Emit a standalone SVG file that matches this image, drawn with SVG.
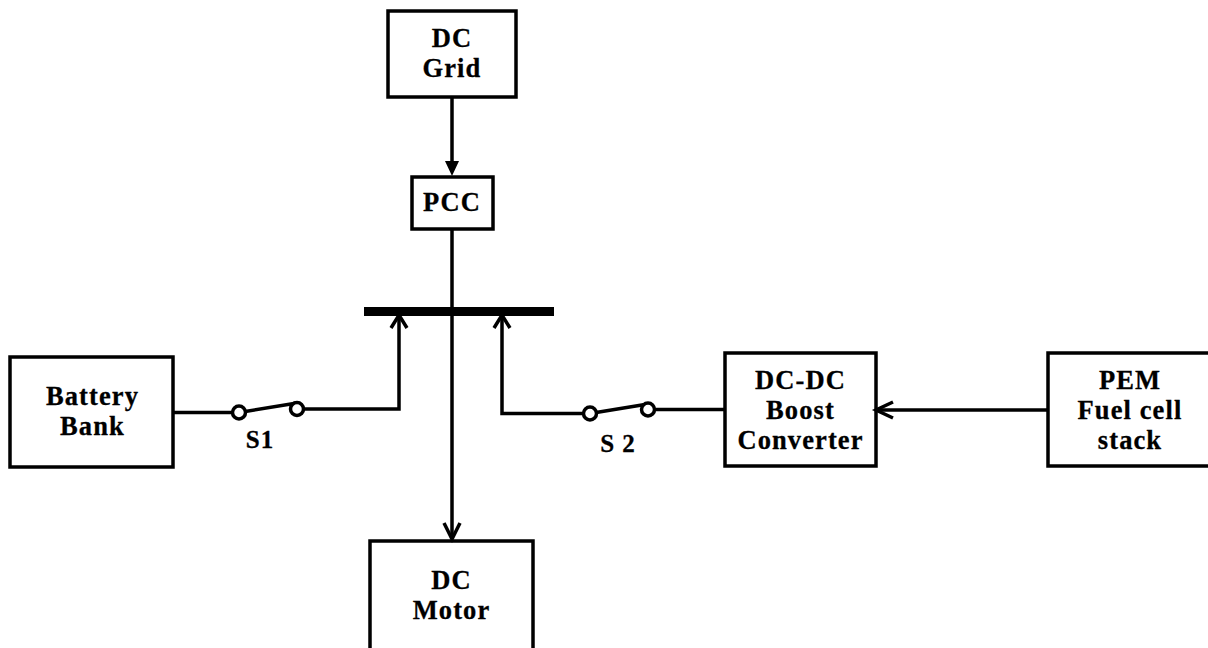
<svg xmlns="http://www.w3.org/2000/svg" width="1208" height="648" viewBox="0 0 1208 648">
<style>
.box{fill:#fff;stroke:#000;stroke-width:3.5}
.line{fill:none;stroke:#000;stroke-width:3.5}
.term{fill:#fff;stroke:#000;stroke-width:3.5}
text{font-family:"Liberation Serif","Times New Roman",serif;font-weight:bold;font-size:26.500px;text-anchor:middle;letter-spacing:1.100px;fill:#000;stroke:#000;stroke-width:.3}
text.sw{font-size:25px;letter-spacing:1px}
</style>
<rect width="1208" height="648" fill="#fff"/>
<g id="dc-grid">
<rect class="box" x="388" y="11" width="128" height="86"/>
<text x="452" y="47">DC</text>
<text x="452" y="77">Grid</text>
</g>
<g id="pcc">
<rect class="box" x="412" y="177" width="81" height="52"/>
<text x="452" y="211">PCC</text>
</g>
<g id="battery-bank">
<rect class="box" x="10" y="357" width="163" height="110"/>
<text x="92.500" y="405">Battery</text>
<text x="92.500" y="435">Bank</text>
</g>
<g id="dc-dc-boost-converter">
<rect class="box" x="725" y="353" width="151" height="113"/>
<text x="800.500" y="389">DC-DC</text>
<text x="800.500" y="419">Boost</text>
<text x="800.500" y="449">Converter</text>
</g>
<g id="pem-fuel-cell-stack">
<rect class="box" x="1048" y="353" width="163" height="113"/>
<text x="1130" y="389">PEM</text>
<text x="1130" y="419">Fuel cell</text>
<text x="1130" y="449">stack</text>
</g>
<g id="dc-motor">
<rect class="box" x="370" y="541" width="163" height="120"/>
<text x="451.500" y="589">DC</text>
<text x="451.500" y="619">Motor</text>
</g>
<g id="connectors">
<path class="line" d="M452 97V165"/>
<path d="M445 161H459L452 176Z" fill="#000"/>
<path class="line" d="M452 230V539"/>
<path class="line" d="M444 523L452 539L460 523"/>
<rect id="bus" x="364" y="307" width="190" height="9" fill="#000"/>
<path class="line" d="M174 412.500H233"/>
<path class="line" d="M303 409H399V316"/>
<path class="line" d="M391 328L399 315L407 328"/>
<path class="line" d="M590 413.500H502V316"/>
<path class="line" d="M494 328L502 315L510 328"/>
<path class="line" d="M654 409.500H725"/>
<path class="line" d="M1048 410H876"/>
<path class="line" d="M893 402L876 410L893 418"/>
</g>
<g id="switch-s1">
<path class="line" d="M239 412.500L297 403"/>
<circle class="term" cx="239" cy="412.500" r="6.500"/>
<circle class="term" cx="297" cy="409" r="6.500"/>
<text class="sw" x="260" y="448">S1</text>
</g>
<g id="switch-s2">
<path class="line" d="M590 413.500L648 404"/>
<circle class="term" cx="590" cy="413.500" r="6.500"/>
<circle class="term" cx="648" cy="409.500" r="6.500"/>
<text class="sw" x="618" y="452">S 2</text>
</g>
</svg>
